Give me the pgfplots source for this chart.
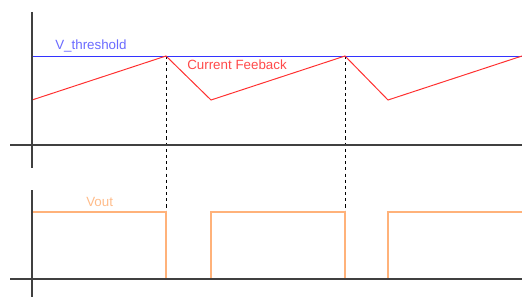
\documentclass[border=0pt]{standalone}
\usepackage{pgfplots}
\pgfplotsset{compat=1.18}
\usepackage{fontspec}
\setmainfont{Liberation Sans}
\definecolor{axgray}{HTML}{404040}
\definecolor{thrblue}{HTML}{3333FF}
\definecolor{thrlab}{HTML}{6A6AFF}
\definecolor{curred}{HTML}{FF3030}
\definecolor{curlab}{HTML}{FF4A4A}
\definecolor{vorange}{HTML}{FFB27A}
\definecolor{vlab}{HTML}{FFBC8A}
\begin{document}
\begin{tikzpicture}
\begin{axis}[
  width=13.05cm, height=7.425cm, scale only axis,
  xmin=0, xmax=522, ymin=0, ymax=297, y dir=reverse,
  axis lines=none, clip=true,
  font=\fontsize{9.5}{11}\selectfont,
]
\path[use as bounding box] (rel axis cs:0,0) rectangle (rel axis cs:1,1);
% threshold
\addplot[thrblue, line width=0.7pt] coordinates {(32,56) (522,56)};
% dashed markers
\addplot[black, line width=0.7pt, dash pattern=on 2.2pt off 2.2pt] coordinates {(166,56) (166,212)};
\addplot[black, line width=0.7pt, dash pattern=on 2.2pt off 2.2pt] coordinates {(345,56) (345,212)};
% current feedback
\addplot[curred, line width=0.7pt] coordinates {(32,100) (166,56) (211,100) (345,56) (388,100) (522,56)};
% Vout
\addplot[vorange, line width=0.8pt] coordinates {(32,212) (166,212) (166,279) (211,279) (211,212) (345,212) (345,279) (388,279) (388,212) (522,212)};
% axes (drawn on top)
\addplot[axgray, line width=0.9pt] coordinates {(32,12) (32,168)};
\addplot[axgray, line width=0.9pt] coordinates {(10,145) (522,145)};
\addplot[axgray, line width=0.9pt] coordinates {(32,190) (32,297)};
\addplot[axgray, line width=0.9pt] coordinates {(10,279) (522,279)};
% labels
\node[anchor=base west, text=thrlab, inner sep=0pt] at (axis cs:55,50) {V\_threshold};
\node[anchor=base west, text=curlab, inner sep=0pt] at (axis cs:187,70) {Current Feeback};
\node[anchor=base west, text=vlab, inner sep=0pt] at (axis cs:86,206) {Vout};
\end{axis}
\end{tikzpicture}
\end{document}
